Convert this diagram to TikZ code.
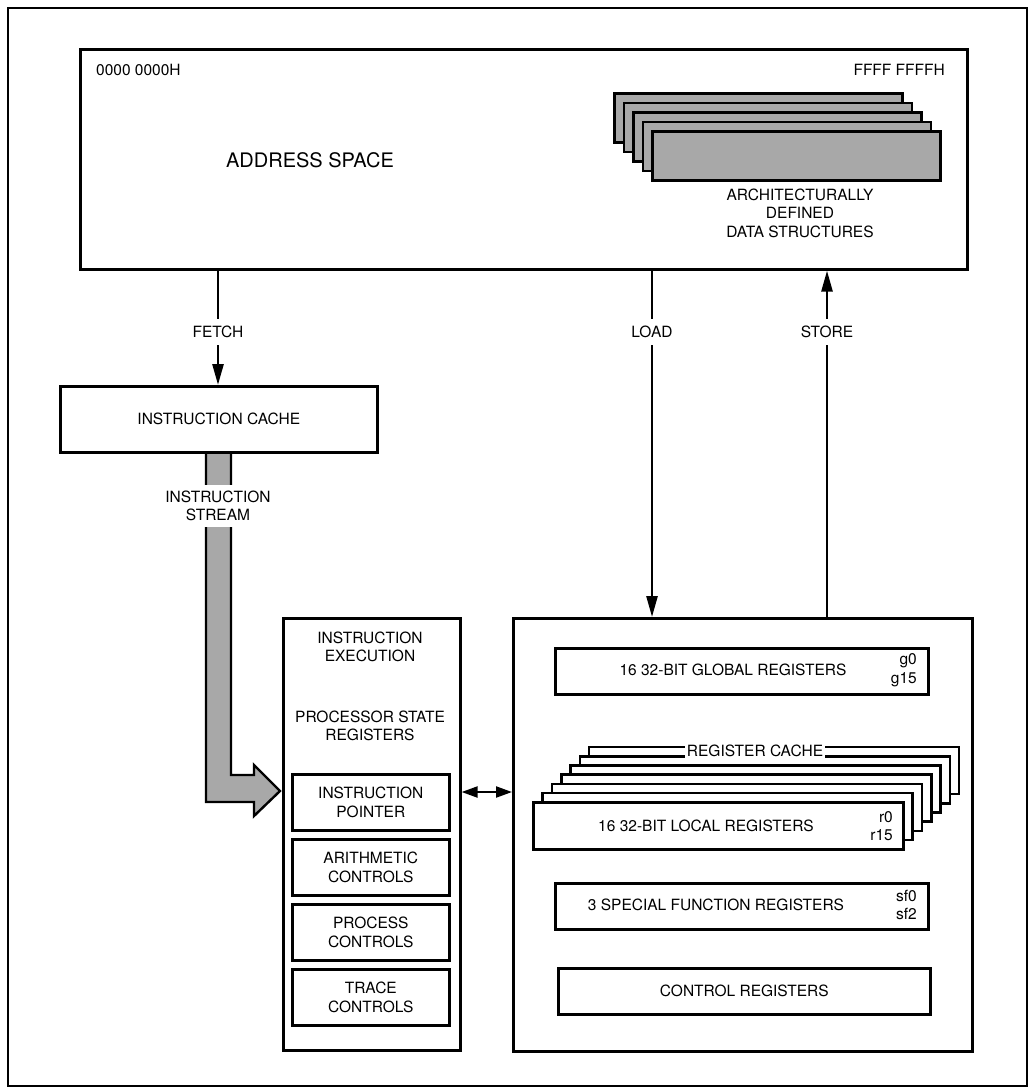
\documentclass[tikz,border=0pt]{standalone}
\usepackage{fontspec}
\setmainfont{TeX Gyre Heros}
\usetikzlibrary{arrows.meta,calc}
\newcommand{\dtxt}{\fontsize{15.5}{18.5}\selectfont}
\newcommand{\btxt}{\fontsize{20}{24}\selectfont}
\definecolor{stipple}{gray}{0.66}
\begin{document}
\begin{tikzpicture}[x=1pt,y=-1pt,
  box/.style={draw,line width=2.6pt,fill=white,inner sep=0pt,anchor=north west},
  shadebox/.style={box,fill=stipple},
  lbl/.style={font=\dtxt,align=center,inner sep=0pt},
  gap/.style={lbl,fill=white,inner xsep=3pt,inner ysep=7pt},
  arr/.style={line width=2.6pt,-{Triangle[length=21pt,width=11pt]}},
  bidir/.style={line width=2.2pt,{Triangle[length=16pt,width=11pt]}-{Triangle[length=16pt,width=11pt]}},
  frame/.style={draw,line width=1.6pt,anchor=north west,inner sep=0pt}]
\useasboundingbox (0,0) rectangle (1031,1088);
% outer frame
\node[frame,minimum width=1019pt,minimum height=1078pt] (outer) at (7,7) {};
% address space
\node[box,minimum width=887pt,minimum height=220pt] (addr) at (79,48) {};
\node[lbl,anchor=west] (lo) at (96,70) {0000 0000H};
\node[lbl,anchor=east] (hi) at (945,70) {FFFF FFFFH};
\node[lbl,font=\btxt] (as) at (310,160) {ADDRESS SPACE};
\foreach \k in {4,3,2,1,0}
  \node[shadebox,minimum width=288pt,minimum height=49pt] (ds\k) at ({651-9.5*\k},{130-9.5*\k}) {};
\node[lbl] (dstxt) at (800,213) {ARCHITECTURALLY\\DEFINED\\DATA STRUCTURES};
% helper coordinates
\coordinate (fx) at (218,0);
\coordinate (lx) at (652,0);
\coordinate (sx) at (827,0);
\coordinate (by) at (0,792);
% instruction stream (fat arrow)
\draw[line width=2.4pt,fill=stipple,line join=miter]
  (206,451) -- (206,802) -- (254,802) -- (254,816) -- (280,791) -- (254,765) -- (254,775) -- (231,775) -- (231,451);
\node[box,minimum width=317pt,minimum height=66pt] (icache) at (59,385) {};
\node[lbl] (ictxt) at (icache.center) {INSTRUCTION CACHE};
\node[lbl,fill=white,inner xsep=2pt,inner ysep=6pt] (stream) at (218,506) {INSTRUCTION\\STREAM};
% execution box
\node[box,minimum width=177pt,minimum height=432pt] (exec) at (282,617) {};
\node[lbl] (extxt) at (370,647) {INSTRUCTION\\EXECUTION};
\node[lbl] (pstxt) at (370,726) {PROCESSOR STATE\\REGISTERS};
\node[box,minimum width=157pt,minimum height=56pt] (ip) at (291,773) {};
\node[lbl] at (ip.center) {INSTRUCTION\\POINTER};
\node[box,minimum width=157pt,minimum height=56pt] (ac) at (291,838) {};
\node[lbl] at (ac.center) {ARITHMETIC\\CONTROLS};
\node[box,minimum width=157pt,minimum height=56pt] (pc) at (291,903) {};
\node[lbl] at (pc.center) {PROCESS\\CONTROLS};
\node[box,minimum width=157pt,minimum height=56pt] (tc) at (291,968) {};
\node[lbl] at (tc.center) {TRACE\\CONTROLS};
% register box
\node[box,minimum width=459pt,minimum height=433pt] (regs) at (512,617) {};
\node[box,minimum width=373pt,minimum height=46pt] (glob) at (554,647) {};
\node[lbl] (globt) at (733,670) {16 32-BIT GLOBAL REGISTERS};
\node[lbl,anchor=east,align=right] (gn) at (917,670) {g0\\g15};
\foreach \k in {6,5,4,3,2,1}
  \node[box,minimum width=370pt,minimum height=47pt] (rc\k) at ({532+9.3*\k},{801-9.2*\k}) {};
\node[lbl,fill=white,inner xsep=2pt,inner ysep=2pt] (rclbl) at (755,751) {REGISTER CACHE};
\node[box,minimum width=370pt,minimum height=47pt] (loc) at (532,801) {};
\node[lbl] (loct) at (706,826) {16 32-BIT LOCAL REGISTERS};
\node[lbl,anchor=east,align=right] (rn) at (893,826) {r0\\r15};
\node[box,minimum width=373pt,minimum height=46pt] (sfr) at (554,882) {};
\node[lbl] (sft) at (716,905) {3 SPECIAL FUNCTION REGISTERS};
\node[lbl,anchor=east,align=right] (sfn) at (917,905) {sf0\\sf2};
\node[box,minimum width=372pt,minimum height=46pt] (ctl) at (557,967) {};
\node[lbl] (ctlt) at (ctl.center) {CONTROL REGISTERS};
% connectors
\draw[arr] (addr.south -| fx) -- (icache.north -| fx);
\node[gap] (fetch) at (218,332) {FETCH};
\draw[arr] (addr.south -| lx) -- (regs.north -| lx);
\node[gap] (load) at (652,332) {LOAD};
\draw[arr] (regs.north -| sx) -- (addr.south -| sx);
\node[gap] (store) at (827,332) {STORE};
\draw[bidir] (exec.east |- by) -- (regs.west |- by);
\end{tikzpicture}
\end{document}
